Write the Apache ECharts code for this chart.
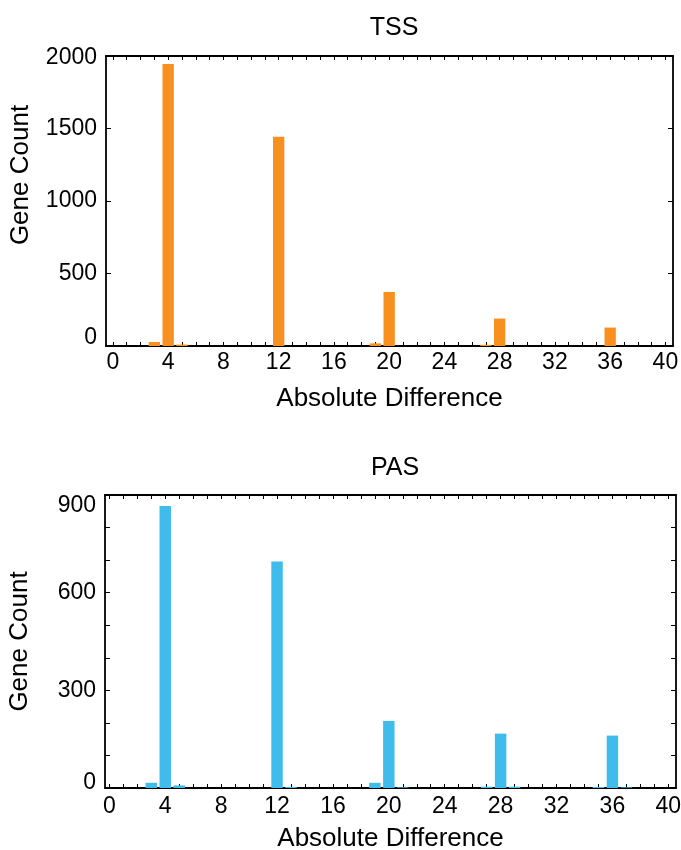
<!DOCTYPE html>
<html>
<head>
<meta charset="utf-8">
<script src="https://cdn.jsdelivr.net/npm/echarts@6/dist/echarts.min.js"></script>
<style>
  html, body { margin: 0; padding: 0; background: #fff; }
  #chart { width: 681px; height: 850px; }
</style>
</head>
<body>
<div id="chart"></div>
<script>
// Gene counts per absolute difference (bins with a nonzero count)
const tssDiff = [3, 4, 5, 12, 19, 20, 27, 28, 36];
const tssCount = [28, 1945, 10, 1443, 18, 373, 8, 189, 127];
const pasDiff = [3, 4, 5, 12, 13, 19, 20, 21, 27, 28, 29, 35, 36, 37];
const pasCount = [16, 866, 8, 696, 3, 16, 206, 2, 4, 167, 4, 3, 161, 2];

// Axis ticks and labels
const xLabelValues = [0, 4, 8, 12, 16, 20, 24, 28, 32, 36, 40];
const xTickValues = [];
for (let v = 0; v <= 40; v++) xTickValues.push(v);

const FONT = 'Liberation Sans, Arial, Helvetica, sans-serif';
const ORANGE = '#F7901E';
const BLUE = '#3FBCEC';

const axisLineStyle = { color: '#000', width: 1.8 };

function xAxes(grid, min, max, labelMargin, nameGap) {
  const base = {
    type: 'value', gridIndex: grid, min: min, max: max,
    splitLine: { show: false },
    axisLine: { show: true, onZero: false, lineStyle: axisLineStyle },
    axisTick: { show: true, inside: true, length: 4, customValues: xTickValues, lineStyle: { color: '#000', width: 1 } }
  };
  return [
    Object.assign({}, base, {
      position: 'bottom',
      name: 'Absolute Difference', nameLocation: 'middle', nameGap: nameGap,
      nameTextStyle: { fontFamily: FONT, fontSize: 26, color: '#000' },
      axisLabel: { show: true, customValues: xLabelValues, margin: labelMargin, fontFamily: FONT, fontSize: 23, color: '#000',
        formatter: v => String(v) }
    }),
    Object.assign({}, base, { position: 'top', axisLabel: { show: false } })
  ];
}

// End labels sit nudged inward from their ticks (padding on one side shifts the text)
function yAxes(grid, max, interval, minorSplit, namePad, loPad, hiPad) {
  const textBase = { fontFamily: FONT, fontSize: 23, color: '#000' };
  const base = {
    type: 'value', gridIndex: grid, min: 0, max: max, interval: interval,
    splitLine: { show: false },
    axisLine: { show: true, onZero: false, lineStyle: axisLineStyle },
    axisTick: { show: true, inside: true, length: 5, lineStyle: { color: '#000', width: 1 } },
    minorTick: { show: minorSplit > 1, splitNumber: minorSplit, length: 5, lineStyle: { color: '#000', width: 1 } },
    minorSplitLine: { show: false }
  };
  return [
    Object.assign({}, base, {
      position: 'left',
      name: 'Gene Count', nameLocation: 'middle', nameGap: 72,
      nameTextStyle: { fontFamily: FONT, fontSize: 26, color: '#000', padding: namePad },
      axisLabel: Object.assign({}, textBase, {
        show: true, margin: 9,
        formatter: v => v === 0 ? '{lo|0}' : (v === max ? '{hi|' + v + '}' : String(v)),
        rich: {
          lo: Object.assign({}, textBase, { padding: [0, 0, loPad, 0] }),
          hi: Object.assign({}, textBase, { padding: [hiPad, 0, 0, 0] })
        }
      })
    }),
    Object.assign({}, base, { position: 'right', axisLabel: { show: false } })
  ];
}

const chart = echarts.init(document.getElementById('chart'), null, { renderer: 'canvas' });

chart.setOption({
  backgroundColor: '#fff',
  animation: false,
  title: [
    { text: 'TSS', left: 389, top: 11, textAlign: 'center',
      textStyle: { fontFamily: FONT, fontSize: 25, fontWeight: 'normal', color: '#000' } },
    { text: 'PAS', left: 390, top: 451, textAlign: 'center',
      textStyle: { fontFamily: FONT, fontSize: 25, fontWeight: 'normal', color: '#000' } }
  ],
  grid: [
    { left: 106, right: 8, top: 56, height: 290, containLabel: false, outerBoundsMode: 'none' },
    { left: 105, right: 5, top: 495, height: 293, containLabel: false, outerBoundsMode: 'none' }
  ],
  xAxis: [].concat(xAxes(0, -0.5, 40.55, 5, 40), xAxes(1, -0.31, 40.55, 7, 38)),
  yAxis: [].concat(
    yAxes(0, 2000, 500, 1, [0, 0, 0, 52], 16, 4),
    yAxes(1, 900, 300, 3, [0, 0, 0, 0], 10, 22)
  ),
  series: [
    {
      type: 'bar', xAxisIndex: 0, yAxisIndex: 0, barWidth: '82%',
      itemStyle: { color: ORANGE },
      data: tssDiff.map((d, i) => [d, tssCount[i]])
    },
    {
      type: 'bar', xAxisIndex: 2, yAxisIndex: 2, barWidth: '82%',
      itemStyle: { color: BLUE },
      data: pasDiff.map((d, i) => [d, pasCount[i]])
    }
  ]
});
</script>
</body>
</html>
